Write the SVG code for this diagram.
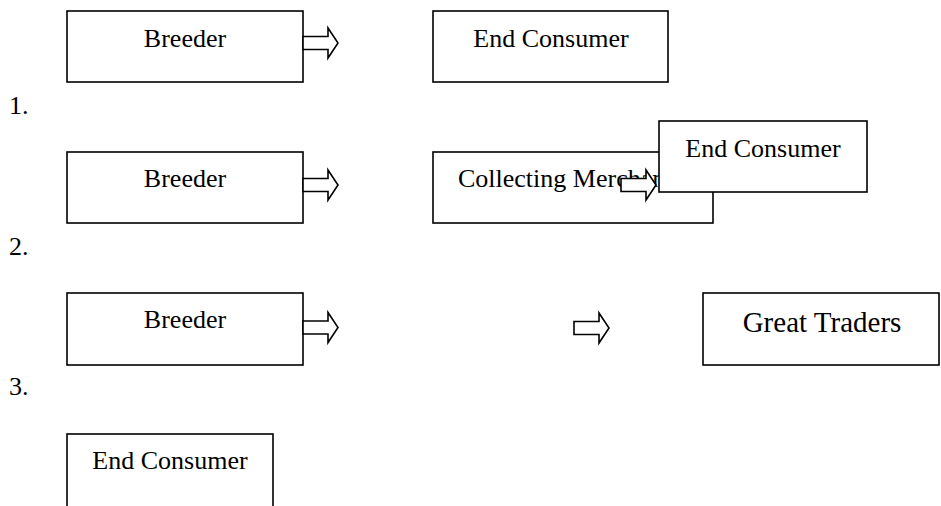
<svg xmlns="http://www.w3.org/2000/svg" width="941" height="506" viewBox="0 0 941 506">
<style>
.box{fill:#fff;stroke:#000;stroke-width:1.6}
.t{font-family:"Liberation Serif","Times New Roman",serif;font-size:26px;fill:#000}
.c{text-anchor:middle}
.arr{fill:#fff;stroke:#000;stroke-width:1.6;stroke-linejoin:miter}
</style>
<defs>
<path id="arrow" class="arr" d="M0,-6.5 H25 V-15 L35,0 L25,15 V6.5 H0 Z"/>
</defs>
<rect width="941" height="506" fill="#fff"/>
<g id="labels">
<text class="t" x="9" y="114">1.</text>
<text class="t" x="9" y="255">2.</text>
<text class="t" x="9" y="395">3.</text>
</g>
<g id="breeder1"><rect class="box" x="67" y="11" width="236" height="71"/><text class="t c" x="185" y="47">Breeder</text></g>
<g id="consumer1"><rect class="box" x="433" y="11" width="235" height="71"/><text class="t c" x="551" y="47">End Consumer</text></g>
<g id="breeder2"><rect class="box" x="67" y="152" width="236" height="71"/><text class="t c" x="185" y="187">Breeder</text></g>
<g id="collecting2"><rect class="box" x="433" y="152" width="280" height="71"/><text class="t" x="458" y="187">Collecting Merchant</text></g>
<g id="breeder3"><rect class="box" x="67" y="293" width="236" height="72"/><text class="t c" x="185" y="328">Breeder</text></g>
<g id="traders3"><rect class="box" x="703" y="293" width="236" height="72"/><text class="t c" x="822" y="332" style="font-size:29px">Great Traders</text></g>
<g id="consumer4"><rect class="box" x="67" y="434" width="206" height="80"/><text class="t c" x="170" y="469">End Consumer</text></g>
<g id="connectors">
<use href="#arrow" transform="translate(303,43)"/>
<use href="#arrow" transform="translate(303,185)"/>
<use href="#arrow" transform="translate(303,327.5)"/>
<use href="#arrow" transform="translate(574,328)"/>
<use href="#arrow" transform="translate(621,185)"/>
</g>
<g id="consumer2"><rect class="box" x="659" y="121" width="208" height="71"/><text class="t c" x="763" y="157">End Consumer</text></g>
</svg>
